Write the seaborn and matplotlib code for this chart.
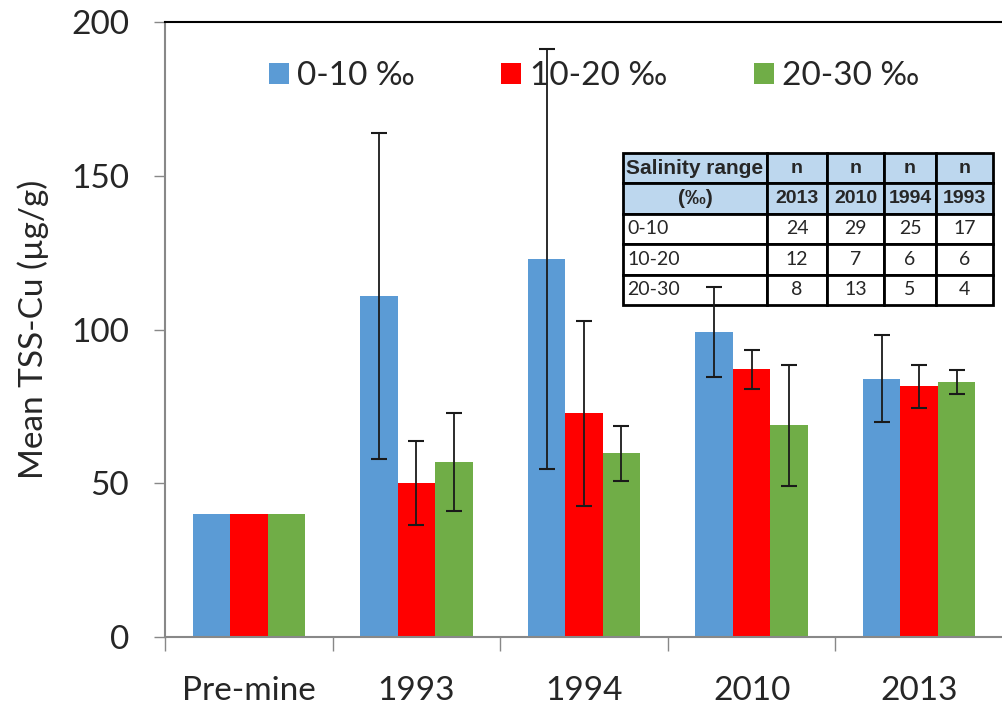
import numpy as np
import pandas as pd
import matplotlib
matplotlib.use("Agg")
import matplotlib.pyplot as plt
import seaborn as sns

# ---------------- data ----------------
categories = ["Pre-mine", "1993", "1994", "2010", "2013"]
salinity = ["0-10 ‰", "10-20 ‰", "20-30 ‰"]
mean_0_10 = [40, 110.9, 122.8, 99.3, 84.0]
mean_10_20 = [40, 50.1, 72.7, 87.0, 81.5]
mean_20_30 = [40, 57.0, 59.7, 68.9, 82.8]
err_0_10 = [np.nan, 53.1, 68.3, 14.6, 14.1]
err_10_20 = [np.nan, 13.6, 30.1, 6.4, 7.1]
err_20_30 = [np.nan, 16.0, 8.9, 19.7, 3.9]
colors = ["#5B9BD5", "#FF0000", "#70AD47"]

table_header1 = ["Salinity range", "n", "n", "n", "n"]
table_header2 = ["(‰)", "2013", "2010", "1994", "1993"]
table_rows = [["0-10", "24", "29", "25", "17"],
              ["10-20", "12", "7", "6", "6"],
              ["20-30", "8", "13", "5", "4"]]

# ---------------- frame ----------------
df = pd.DataFrame({
    "Year": categories * 3,
    "Salinity": [s for s in salinity for _ in categories],
    "Mean": mean_0_10 + mean_10_20 + mean_20_30,
    "Err": err_0_10 + err_10_20 + err_20_30,
})

sns.set_style("white")
plt.rcParams["font.family"] = ["Lato", "DejaVu Sans"]

fig = plt.figure(figsize=(10.03, 7.05), dpi=100)
ax = fig.add_axes([165 / 1003, 1 - 637 / 705, 838 / 1003, 615 / 705])

sns.barplot(data=df, x="Year", y="Mean", hue="Salinity", order=categories,
            hue_order=salinity, palette=colors, width=0.67, errorbar=None,
            saturation=1, ax=ax, legend=True, zorder=1, linewidth=0)

# error bars at bar centres
for s, cont in zip(salinity, ax.containers):
    sub = df[df["Salinity"] == s].set_index("Year").loc[categories]
    xs = [p.get_x() + p.get_width() / 2 for p in cont.patches]
    ax.errorbar(xs, sub["Mean"].values, yerr=sub["Err"].values, fmt="none",
                ecolor="#1a1a1a", elinewidth=1.3, capsize=6, capthick=1.5,
                zorder=5)

ax.set_ylim(0, 200)
ax.set_xlim(-0.5, 4.5)
ax.set_yticks([0, 50, 100, 150, 200])
ax.tick_params(axis="y", labelsize=24, length=8, width=1, color="#888888",
               pad=18, direction="out", left=True)
# x ticks at category boundaries, labels at centres
ax.set_xticks(np.arange(-0.5, 5.0, 1.0))
ax.set_xticklabels([])
ax.tick_params(axis="x", which="major", length=10, width=1, color="#888888",
               direction="out", bottom=True)
ax.set_xticks(np.arange(0, 5), minor=True)
ax.set_xticklabels(categories, minor=True)
ax.tick_params(axis="x", which="minor", length=0, labelsize=24, pad=28)

ax.set_xlabel("")
ax.set_ylabel("Mean TSS-Cu (µg/g)", fontsize=24, labelpad=16)

for side in ["left", "bottom"]:
    ax.spines[side].set_color("#888888")
    ax.spines[side].set_linewidth(1.5)
ax.spines["top"].set_color("black")
ax.spines["top"].set_linewidth(1.5)
ax.spines["right"].set_visible(False)

# legend
handles, labels = ax.get_legend_handles_labels()
ax.legend(handles, labels, loc="center", bbox_to_anchor=(594 / 1003, 1 - 76 / 705),
          bbox_transform=fig.transFigure, ncol=3, frameon=False, fontsize=24,
          handlelength=0.6, handleheight=0.6, handletextpad=0.25,
          columnspacing=2.6)

# inset table
cell_text = [table_header1, table_header2] + table_rows
widths = np.array([144, 60, 57, 52, 57], dtype=float)
widths = widths / widths.sum()
tbl = ax.table(cellText=cell_text, colWidths=list(widths), cellLoc="center",
               bbox=[(623 - 165) / 838, (637 - 305) / 615, 370 / 838, 152 / 615])
tbl.auto_set_font_size(False)
tbl.set_zorder(3)
for (r, c), cell in tbl.get_celld().items():
    cell.set_linewidth(2)
    cell.set_edgecolor("black")
    cell.PAD = 0.03
    if r < 2:
        cell.set_facecolor("#BDD7EE")
        cell.set_text_props(fontsize=15 if c == 0 else 14, fontweight="bold",
                            family=["Liberation Sans", "DejaVu Sans"])
    else:
        cell.set_facecolor("white")
        cell.set_text_props(fontsize=14, family=["Lato", "DejaVu Sans"])
        if c == 0:
            cell._loc = "left"
            cell.get_text().set_ha("left")

fig.savefig("out.png", dpi=100)
